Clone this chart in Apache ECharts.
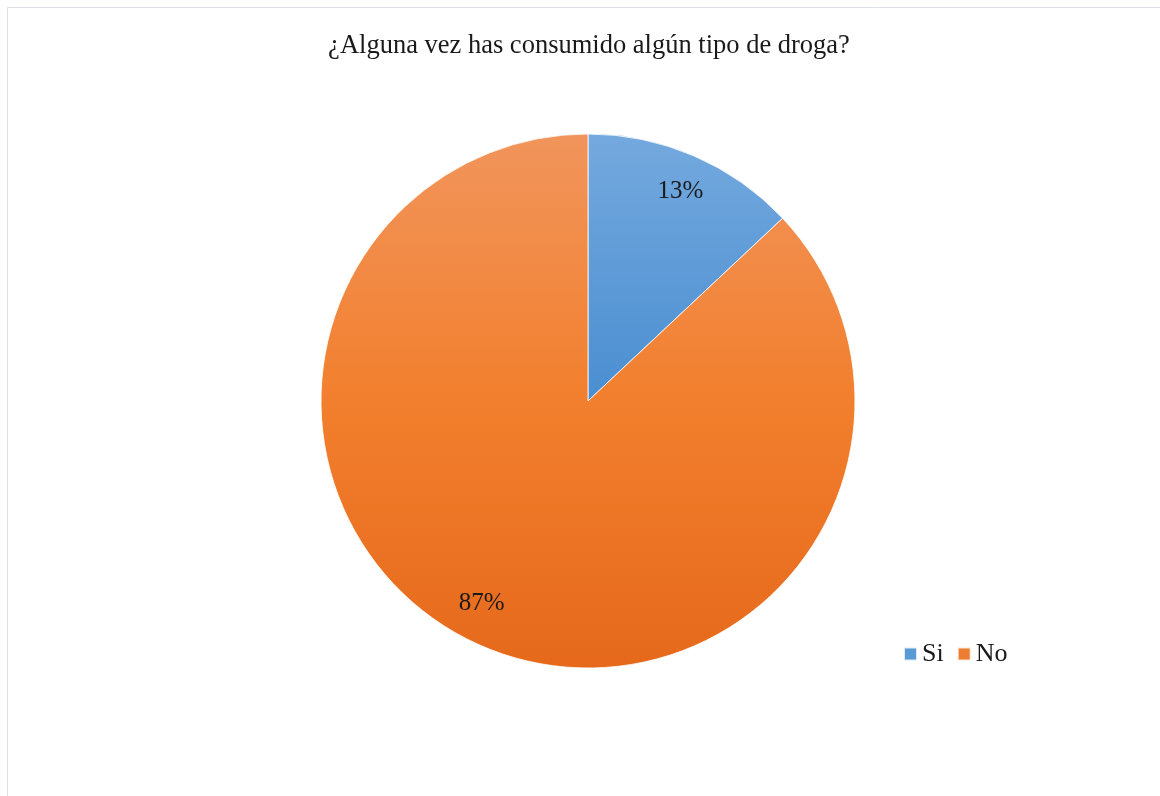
<!DOCTYPE html>
<html>
<head>
<meta charset="utf-8">
<script src="https://cdn.jsdelivr.net/npm/echarts@6/dist/echarts.min.js"></script>
<style>
  html, body { margin: 0; padding: 0; background: #ffffff; }
  #chart { width: 1160px; height: 796px; }
</style>
</head>
<body>
<div id="chart"></div>
<script>
// Survey answers and their shares (percent)
const categories = ['Si', 'No'];
const shares = [13, 87];
const titleText = '¿Alguna vez has consumido algún tipo de droga?';

const serif = '"Liberation Serif", "DejaVu Serif", serif';
const CX = 588, CY = 401, R = 267;

// Vertical fills, lighter at the top of each slice
const fills = [
  new echarts.graphic.LinearGradient(0, 0, 0, 1, [
    { offset: 0, color: '#74a9de' },
    { offset: 1, color: '#4a8ed1' }
  ]),
  new echarts.graphic.LinearGradient(0, 0, 0, 1, [
    { offset: 0, color: '#f1955c' },
    { offset: 0.5, color: '#f27f2d' },
    { offset: 1, color: '#e6691b' }
  ])
];
const legendColors = ['#5b9bd5', '#ed7d31'];

const pieData = categories.map((name, i) => ({
  name: name,
  value: shares[i],
  itemStyle: { color: fills[i] }
}));

// small nudges of the percentage labels
const labelShift = [[0, 4], [-14, -11]];

const chart = echarts.init(document.getElementById('chart'), null, { renderer: 'canvas' });
chart.setOption({
  animation: false,
  backgroundColor: '#ffffff',
  color: legendColors,
  graphic: [{
    type: 'rect',
    shape: { x: 7.5, y: 7.5, width: 1300, height: 900 },
    style: { fill: 'none', stroke: '#dde1e6', lineWidth: 1 },
    silent: true,
    z: -1
  }],
  title: {
    text: titleText,
    left: 589,
    textAlign: 'center',
    top: 33,
    padding: 0,
    textStyle: { fontFamily: serif, fontSize: 26.5, fontWeight: 'normal', color: '#1a1a1a' }
  },
  legend: {
    data: categories.map((c, i) => ({ name: c, itemStyle: { color: legendColors[i] } })),
    left: 903,
    top: 641,
    padding: 0,
    icon: 'rect',
    itemWidth: 13,
    itemHeight: 13,
    itemGap: 13,
    textStyle: { fontFamily: serif, fontSize: 26, color: '#1a1a1a' }
  },
  series: [
    {
      name: 'respuestas',
      type: 'pie',
      center: [CX, CY],
      radius: [0, R],
      startAngle: 90,
      clockwise: true,
      avoidLabelOverlap: false,
      label: { show: false },
      labelLine: { show: false },
      itemStyle: { borderColor: 'rgba(255,255,255,0.8)', borderWidth: 1 },
      emphasis: { disabled: true },
      data: pieData
    },
    {
      // label ring: places the percentage text near the outer edge of each slice
      name: 'etiquetas',
      type: 'pie',
      center: [CX, CY],
      radius: [R * 0.72, R],
      startAngle: 90,
      clockwise: true,
      silent: true,
      legendHoverLink: false,
      itemStyle: { color: 'rgba(0,0,0,0)' },
      label: {
        show: true,
        position: 'inside',
        formatter: '{d}%',
        fontFamily: serif,
        fontSize: 25,
        color: '#1a1a1a'
      },
      labelLayout: function (p) {
        const s = labelShift[p.dataIndex] || [0, 0];
        return { dx: s[0], dy: s[1] };
      },
      labelLine: { show: false },
      emphasis: { disabled: true },
      data: categories.map((name, i) => ({ name: name + ' ', value: shares[i] }))
    }
  ]
});
</script>
</body>
</html>
